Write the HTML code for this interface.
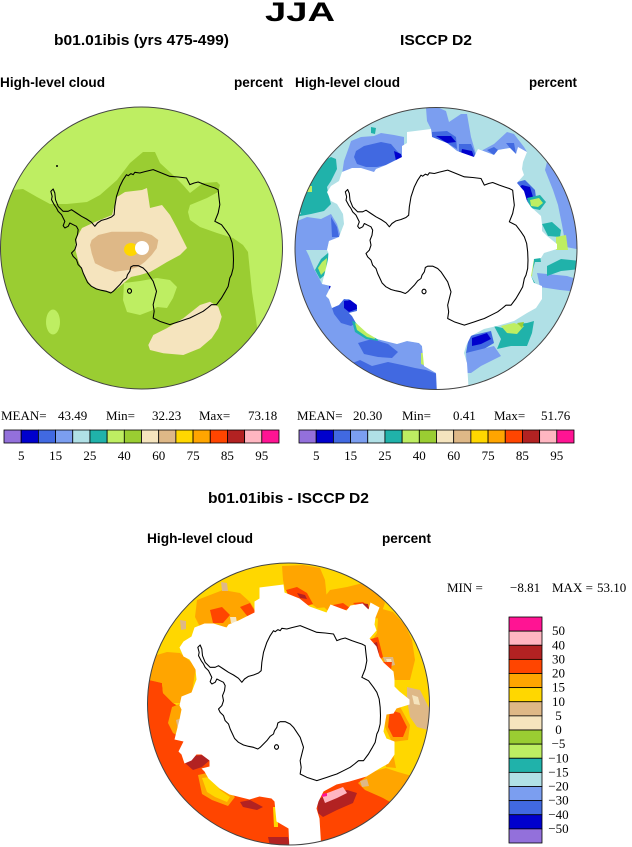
<!DOCTYPE html>
<html><head><meta charset="utf-8"><style>
html,body{margin:0;padding:0;background:#fff;}
svg{display:block;}
.t{font-family:"Liberation Sans",Arial,sans-serif;font-weight:bold;fill:#000;}
.s{font-family:"Liberation Serif","Times New Roman",serif;font-size:13px;fill:#000;}
</style></head><body>
<svg width="632" height="847" viewBox="0 0 632 847" xmlns="http://www.w3.org/2000/svg">
<defs>
<clipPath id="cL"><circle cx="141.5" cy="248" r="141"/></clipPath>
<clipPath id="cR"><circle cx="436" cy="248.5" r="141"/></clipPath>
<clipPath id="cB"><circle cx="288.5" cy="704" r="141"/></clipPath>
<polygon id="wh" points="407,132 431,129 432,137 447,143 457,151 474,157 478,149 494,155 498,150 510,148 516,154 518,147 527,152 523,162 522,169 524,175 517,183 524,191 527,201 531,207 541,216 542,224 542,231 547,236 557,244 557,249 544,253 541,258 534,259 531,276 534,283 542,286 542,299 536,308 527,313 514,321 497,326 484,329 471,336 466,346 464,353 467,363 469,395 437,395 436,373 424,366 422,346 419,343 407,341 397,344 377,339 367,333 356,323 352,316 349,313 357,311 357,305 349,299 344,299 339,305 332,308 329,299 326,296 331,286 322,284 324,276 327,264 329,254 327,250 329,241 339,237 344,224 343,214 337,204 331,201 327,192 331,186 339,181 342,172 352,168 361,168 374,172 376,169 386,165 394,161 402,157 402,146 407,143"/>
<path id="coast" d="M245,45 L250,48 L258,42 L265,45 L270,38 L285,40 L300,36 L325,30 L350,40 L375,50 L400,52 L425,55 L435,75 L448,70 L460,67 L480,75 L495,80 L510,85 L520,90 L522,110 L525,135 L520,160 L510,185 L520,190 L530,195 L545,215 L555,230 L562,250 L565,275 L566,300 L565,325 L560,345 L555,355 L550,380 L540,398 L530,415 L515,435 L500,435 L488,445 L475,455 L455,465 L435,475 L420,480 L405,485 L390,490 L375,495 L360,490 L345,485 L325,475 L328,455 L325,435 L330,415 L335,395 L330,380 L325,365 L315,350 L305,335 L295,325 L280,318 L265,318 L258,322 L255,335 L248,345 L245,355 L235,362 L225,375 L215,385 L205,395 L198,400 L185,395 L170,392 L155,388 L140,380 L128,368 L122,355 L115,340 L110,325 L100,315 L95,300 L85,290 L80,280 L90,270 L95,255 L92,240 L98,225 L100,210 L95,200 L85,195 L75,190 L70,200 L60,205 L55,198 L60,185 L55,175 L50,165 L40,155 L35,145 L28,135 L20,120 L22,110 L18,95 L25,88 L30,100 L32,120 L40,140 L55,155 L70,155 L80,150 L95,160 L110,170 L125,178 L140,188 L150,200 L158,190 L170,182 L185,178 L200,172 L208,165 L210,140 L215,110 L225,80 L235,60 Z M254,387 a6,7 0 1,0 0.1,0 Z"/>
<g id="hbar" stroke="#000" stroke-width="0.8">
<rect x="4" y="430" width="17.19" height="13" fill="#9370DB"/>
<rect x="21.19" y="430" width="17.19" height="13" fill="#0000CD"/>
<rect x="38.38" y="430" width="17.19" height="13" fill="#4169E1"/>
<rect x="55.56" y="430" width="17.19" height="13" fill="#7B9EF0"/>
<rect x="72.75" y="430" width="17.19" height="13" fill="#B0E0E6"/>
<rect x="89.94" y="430" width="17.19" height="13" fill="#20B2AA"/>
<rect x="107.13" y="430" width="17.19" height="13" fill="#BEEE62"/>
<rect x="124.31" y="430" width="17.19" height="13" fill="#9ACD32"/>
<rect x="141.5" y="430" width="17.19" height="13" fill="#F5E4BE"/>
<rect x="158.69" y="430" width="17.19" height="13" fill="#DEB887"/>
<rect x="175.88" y="430" width="17.19" height="13" fill="#FFD700"/>
<rect x="193.06" y="430" width="17.19" height="13" fill="#FFA500"/>
<rect x="210.25" y="430" width="17.19" height="13" fill="#FF4500"/>
<rect x="227.44" y="430" width="17.19" height="13" fill="#B22222"/>
<rect x="244.63" y="430" width="17.19" height="13" fill="#FFB6C1"/>
<rect x="261.81" y="430" width="17.19" height="13" fill="#FF1493"/>
</g>
<g id="hlab" class="s" text-anchor="middle">
<text x="21.2" y="460">5</text><text x="55.6" y="460">15</text><text x="89.9" y="460">25</text><text x="124.3" y="460">40</text>
<text x="158.7" y="460">60</text><text x="193.1" y="460">75</text><text x="227.4" y="460">85</text><text x="261.8" y="460">95</text>
</g>
</defs>

<rect width="632" height="847" fill="#fff"/>

<!-- Titles -->
<text class="t" x="265" y="21" font-size="27" textLength="70" lengthAdjust="spacingAndGlyphs">JJA</text>
<text class="t" x="54" y="45" font-size="15" textLength="175" lengthAdjust="spacingAndGlyphs">b01.01ibis (yrs 475-499)</text>
<text class="t" x="400" y="45" font-size="15" textLength="72" lengthAdjust="spacingAndGlyphs">ISCCP D2</text>
<text class="t" x="0" y="87" font-size="13.5" textLength="105" lengthAdjust="spacingAndGlyphs">High-level cloud</text>
<text class="t" x="234" y="87" font-size="13.5" textLength="49" lengthAdjust="spacingAndGlyphs">percent</text>
<text class="t" x="295" y="87" font-size="13.5" textLength="105" lengthAdjust="spacingAndGlyphs">High-level cloud</text>
<text class="t" x="529" y="87" font-size="13.5" textLength="48" lengthAdjust="spacingAndGlyphs">percent</text>

<!-- LEFT PLOT -->
<g clip-path="url(#cL)">
<rect x="0" y="100" width="290" height="300" fill="#BEEE62"/>
<polygon fill="#9ACD32" points="-5,185 13,190 23,189 37,197 50,204 67,204 87,202 100,195 117,180 130,163 143,152 155,152 160,163 173,175 183,185 190,193 203,183 217,182 220,185 218,192 207,198 190,205 188,212 190,220 200,227 217,233 233,238 243,245 248,252 250,272 252,292 255,312 257,327 270,400 -5,400"/>
<ellipse cx="53" cy="322" rx="7" ry="12.5" fill="#BEEE62"/>
<polygon fill="#BEEE62" points="124,283 140,281 157,278 170,280 177,287 173,298 167,308 157,307 153,310 140,315 127,312 123,300"/>
<polygon fill="#F5E4BE" points="95,222 112,215 117,197 125,192 142,190 147,188 150,208 162,205 170,215 177,228 187,248 180,255 167,262 157,268 150,272 140,275 131,277 125,282 118,288 112,292 102,290 92,287 85,277 78,260 75,248 77,237 82,228"/>
<polygon fill="#DEB887" points="91.7,240 98.3,235 111.7,231.7 128.3,231.7 141.7,231.7 151.7,235 158.3,240 156.7,248.3 151.7,255 145,261.7 138.3,266.7 128.3,270 115,271.7 105,268.3 95,263.3 91.7,253.3 90,245"/>
<ellipse cx="131" cy="249.5" rx="7" ry="6.5" fill="#FFD700"/>
<circle cx="142" cy="248" r="7" fill="#fff"/>
<polygon fill="#F5E4BE" points="148.3,345 153.3,335 166.7,328.3 183.3,318.3 200,305 210,301.7 218.3,306.7 221.7,316.7 218.3,328.3 211.7,338.3 200,348.3 183.3,355 163.3,353.3 150,350"/>
<circle cx="57" cy="166" r="1" fill="#000"/>
<use href="#coast" transform="translate(141.5,248) scale(0.33333) translate(-290,-265)" fill="none" stroke="#000" stroke-width="3.2" stroke-linejoin="round"/>
</g>
<circle cx="141.5" cy="248" r="141" fill="none" stroke="#444" stroke-width="1"/>

<!-- RIGHT PLOT -->
<g clip-path="url(#cR)">
<rect x="290" y="100" width="295" height="300" fill="#B0E0E6"/>
<polygon fill="#7B9EF0" points="290,246 304,246 309,256 314,269 319,278 322,284 331,286 326,296 329,299 332,308 339,305 344,299 349,299 357,305 357,311 349,313 352,316 356,323 367,333 377,339 397,344 407,341 419,343 422,346 424,366 436,373 437,395 290,395"/>
<polygon fill="#7B9EF0" points="290,224 307,217 321,219 331,214 337,224 341,237 329,241 327,250 290,250"/>
<polygon fill="#4169E1" points="331,217 337,227 339,237 332,237"/>
<polygon fill="#4169E1" points="330,362 345,366 360,360 372,366 388,362 402,365 415,368 426,370 437,374 437,395 330,395"/>
<polygon fill="#4169E1" points="358,343 372,339 388,344 398,352 392,358 378,357 364,354"/>
<polygon fill="#4169E1" points="332,308 344,299 357,305 357,311 349,313 352,316 356,323 351,326 341,323 334,314"/>
<polygon fill="#0000CD" points="344,301 356,299 357,309 349,312 344,308"/>
<polygon fill="#0000CD" points="329,286 336,288 336,296 330,296"/>
<polygon fill="#20B2AA" points="352,321 362,324 376,333 378,341 366,339 355,332"/>
<polygon fill="#BEEE62" points="355,323 361,326 374,335 375,339 367,337 357,330"/>
<polygon fill="#BEEE62" points="421,353 426,353 426,366 421,364"/>
<polygon fill="#20B2AA" points="315,270 321,259 328,253 328,267 326,274 320,279"/>
<polygon fill="#BEEE62" points="318,268 322,262 327,258 326,270 321,275"/>
<polygon fill="#4169E1" points="469,336 491,331 494,343 484,349 471,353 466,353"/>
<polygon fill="#0000CD" points="472,338 487,333 491,339 481,344 472,346"/>
<polygon fill="#7B9EF0" points="466,353 494,346 501,356 481,366 471,373 467,373"/>
<polygon fill="#20B2AA" points="494,326 507,329 517,324 527,323 534,321 532,333 527,346 511,346 497,349 501,339"/>
<polygon fill="#BEEE62" points="501,326 514,323 524,326 517,334 507,333"/>
<polygon fill="#9ACD32" points="517,323 524,322 522,328"/>
<polygon fill="#7B9EF0" points="548,158 560,170 570,190 577,215 582,250 566,247 562,225 558,205 553,190 545,170"/>
<polygon fill="#7B9EF0" points="537,273 567,276 580,280 580,292 560,290 540,287"/>
<polygon fill="#20B2AA" points="547,266 561,259 580,261 580,269 561,271 547,276"/>
<polygon fill="#20B2AA" points="528,258 540,256 541,262 535,262 531,276 535,283 528,283 526,270"/>
<polygon fill="#BEEE62" points="529,262 534,260 532,276 529,278"/>
<polygon fill="#4169E1" points="513,183 525,180 535,190 537,205 530,210 518,203"/>
<polygon fill="#0000CD" points="516,190 522,185 530,187 533,197 527,200 518,197"/>
<polygon fill="#20B2AA" points="527,198 540,195 546,202 540,210 530,208"/>
<polygon fill="#BEEE62" points="530,200 539,198 543,203 538,207 531,206"/>
<polygon fill="#20B2AA" points="542,224 552,222 561,230 560,237 548,236"/>
<polygon fill="#BEEE62" points="556,237 566,235 568,250 556,250"/>
<polygon fill="#7B9EF0" points="341,181 344,161 349,147 351,141 361,137 374,136 381,133 394,135 404,137 404,160 380,170 345,185"/>
<polygon fill="#4169E1" points="356,151 364,146 381,142 391,144 397,151 403,157 394,161 386,165 377,167 366,167 357,164 354,157"/>
<polygon fill="#0000CD" points="394,151 401,154 402,159 396,161"/>
<polygon fill="#20B2AA" points="371,127 376,128 375,134 371,133"/>
<polygon fill="#7B9EF0" points="426,108 437,107 446,111 449,122 461,114 467,114 471,137 476,154 474,157 457,151 447,143 432,137 431,129 427,121"/>
<polygon fill="#4169E1" points="432,132 447,131 456,137 457,149 447,143 432,137"/>
<polygon fill="#4169E1" points="459,144 471,144 476,156 474,157 459,154"/>
<polygon fill="#0000CD" points="436,136 451,136 456,142 447,143"/>
<polygon fill="#0000CD" points="462,149 472,151 474,157 461,154"/>
<polygon fill="#7B9EF0" points="481,151 494,144 507,132 514,134 524,147 527,152 516,154 510,148 498,150 494,155 478,149"/>
<polygon fill="#4169E1" points="487,150 494,147 498,150 494,155"/>
<polygon fill="#4169E1" points="506,143 514,143 516,154 510,148"/>
<polygon fill="#20B2AA" points="290,215 301,214 297,201 302,184 311,171 321,162 331,157 336,159 337,169 331,181 327,187 329,197 331,204 324,211 311,214 290,218"/>
<polygon fill="#BEEE62" points="307,186 312,186 312,192 307,192"/>
<use href="#wh" fill="#fff"/>
<use href="#coast" transform="translate(436,248.5) scale(0.33333) translate(-290,-265)" fill="none" stroke="#000" stroke-width="3.2" stroke-linejoin="round"/>
</g>
<circle cx="436" cy="248.5" r="141" fill="none" stroke="#444" stroke-width="1"/>

<!-- MEAN lines -->
<g class="s">
<text x="1" y="420">MEAN=</text><text x="58" y="420">43.49</text><text x="106" y="420">Min=</text><text x="152" y="420">32.23</text><text x="199" y="420">Max=</text><text x="248" y="420">73.18</text>
<text x="297" y="420">MEAN=</text><text x="353" y="420">20.30</text><text x="402" y="420">Min=</text><text x="453" y="420">0.41</text><text x="494" y="420">Max=</text><text x="541" y="420">51.76</text>
</g>
<use href="#hbar"/>
<use href="#hbar" transform="translate(295,0)"/>
<use href="#hlab"/>
<use href="#hlab" transform="translate(295,0)"/>

<!-- BOTTOM -->
<text class="t" x="208" y="503" font-size="15" textLength="161" lengthAdjust="spacingAndGlyphs">b01.01ibis - ISCCP D2</text>
<text class="t" x="147" y="543" font-size="13.5" textLength="106" lengthAdjust="spacingAndGlyphs">High-level cloud</text>
<text class="t" x="382" y="543" font-size="13.5" textLength="49" lengthAdjust="spacingAndGlyphs">percent</text>

<g clip-path="url(#cB)">
<rect x="140" y="555" width="300" height="300" fill="#FFD700"/>
<polygon fill="#FF4500" points="135,676 162,683 163,693 173,703 200,720 300,760 360,765 372,772 385,790 400,800 440,800 440,860 135,860"/>
<polygon fill="#FFA500" points="140,660 167,652 180,653 197,667 195,673 192,692 180,703 173,703 163,693 162,683 140,678"/>
<polygon fill="#FFA500" points="172,707 182,703 183,727 180,737 173,733 168,723"/>
<polygon fill="#DEB887" points="176,720 182,718 182,728 178,730"/>
<polygon fill="#FFA500" points="197,600 210,595 223,590 240,593 250,602 257,613 250,622 237,627 223,627 210,628 200,627 195,617"/>
<polygon fill="#FF4500" points="210,610 222,607 230,615 223,623 213,623"/>
<polygon fill="#FF4500" points="240,607 250,603 256,613 248,617"/>
<polygon fill="#DEB887" points="221,582 227,583 228,591 222,591"/>
<polygon fill="#DEB887" points="180,620 186,621 186,629 181,630"/>
<polygon fill="#F5E4BE" points="230,617 236,617 237,623 231,623"/>
<polygon fill="#FFA500" points="282,566 303,565 320,568 325,580 327,600 330,607 317,608 310,603 297,595 285,590 283,580"/>
<polygon fill="#FF4500" points="286,590 297,587 307,593 313,604 303,607 295,601 288,595"/>
<polygon fill="#B22222" points="297,593 305,595 307,599 300,598"/>
<polygon fill="#FFA500" points="320,603 330,590 347,587 363,583 377,590 385,603 380,617 372,620 363,613 350,610 337,612 327,610"/>
<polygon fill="#FF4500" points="333,605 343,603 350,608 343,611 335,611"/>
<polygon fill="#FF4500" points="353,603 363,602 370,608 363,612"/>
<polygon fill="#B22222" points="360,603 368,604 369,609 363,609"/>
<polygon fill="#FFA500" points="375,607 393,612 405,625 412,640 415,660 410,680 387,680 382,670 370,660 369,645 377,633 378,620"/>
<polygon fill="#FF4500" points="367,640 378,637 383,657 377,662 368,657"/>
<polygon fill="#B22222" points="368,645 377,642 379,653 373,657"/>
<polygon fill="#DEB887" points="383,657 393,657 395,665 387,667"/>
<polygon fill="#F5E4BE" points="386,659 391,659 392,663 388,664"/>
<polygon fill="#FF4500" points="380,662 392,662 390,678 382,678"/>
<polygon fill="#DEB887" points="407,687 420,690 430,710 428,730 417,727 410,717 407,700"/>
<polygon fill="#F5E4BE" points="412,695 418,697 420,705 414,704"/>
<polygon fill="#FFA500" points="386,700 398,703 410,725 408,740 392,742 385,727"/>
<polygon fill="#FF4500" points="390,710 400,713 407,727 403,737 393,737 388,727"/>
<polygon fill="#FFA500" points="385,745 392,748 396,768 386,767"/>
<polygon fill="#FFA500" points="372,772 386,768 398,772 412,776 420,780 410,800 397,806 383,798 365,790 358,783"/>
<polygon fill="#DEB887" points="360,781 367,779 369,786 362,787"/>
<polygon fill="#B22222" points="183,757 202,755 210,760 202,767 193,770 185,763"/>
<polygon fill="#B22222" points="183,743 192,745 190,752 184,750"/>
<polygon fill="#B22222" points="240,802 250,800 263,807 257,810 243,807"/>
<polygon fill="#B22222" points="268,837 288,837 290,846 270,846"/>
<polygon fill="#B22222" points="317,800 330,793 347,790 357,793 353,803 337,810 323,817 318,813"/>
<polygon fill="#FFB6C1" points="322,795 330,792 343,787 347,793 337,798 325,803"/>
<polygon fill="#FF1493" points="322,794 327,793 327,796 322,797"/>
<polygon fill="#FFA500" points="198,775 212,772 225,788 235,797 228,806 212,800 202,794"/>
<polygon fill="#FFD700" points="202,778 210,777 220,790 230,797 227,802 215,797 207,792"/>
<polygon fill="#FFD700" points="273,807 278,807 278,827 274,827"/>
<use href="#wh" transform="translate(-147.5,455.5)" fill="#fff"/>
<use href="#coast" transform="translate(288.5,704) scale(0.33333) translate(-290,-265)" fill="none" stroke="#000" stroke-width="3.2" stroke-linejoin="round"/>
</g>
<circle cx="288.5" cy="704" r="141" fill="none" stroke="#444" stroke-width="1"/>

<g class="s">
<text x="447" y="592">MIN =</text><text x="510" y="592">−8.81</text><text x="552" y="592">MAX =</text><text x="597" y="592">53.10</text>
</g>

<g stroke="#000" stroke-width="0.8">
<rect x="509" y="617" width="33" height="14.13" fill="#FF1493"/>
<rect x="509" y="631.13" width="33" height="14.13" fill="#FFB6C1"/>
<rect x="509" y="645.25" width="33" height="14.13" fill="#B22222"/>
<rect x="509" y="659.38" width="33" height="14.13" fill="#FF4500"/>
<rect x="509" y="673.5" width="33" height="14.13" fill="#FFA500"/>
<rect x="509" y="687.63" width="33" height="14.13" fill="#FFD700"/>
<rect x="509" y="701.75" width="33" height="14.13" fill="#DEB887"/>
<rect x="509" y="715.88" width="33" height="14.13" fill="#F5E4BE"/>
<rect x="509" y="730" width="33" height="14.13" fill="#9ACD32"/>
<rect x="509" y="744.13" width="33" height="14.13" fill="#BEEE62"/>
<rect x="509" y="758.25" width="33" height="14.13" fill="#20B2AA"/>
<rect x="509" y="772.38" width="33" height="14.13" fill="#B0E0E6"/>
<rect x="509" y="786.5" width="33" height="14.13" fill="#7B9EF0"/>
<rect x="509" y="800.63" width="33" height="14.13" fill="#4169E1"/>
<rect x="509" y="814.75" width="33" height="14.13" fill="#0000CD"/>
<rect x="509" y="828.88" width="33" height="14.12" fill="#9370DB"/>
</g>
<g class="s" text-anchor="middle">
<text x="558.5" y="635.1">50</text>
<text x="558.5" y="649.3">40</text>
<text x="558.5" y="663.4">30</text>
<text x="558.5" y="677.5">20</text>
<text x="558.5" y="691.6">15</text>
<text x="558.5" y="705.8">10</text>
<text x="558.5" y="719.9">5</text>
<text x="558.5" y="734">0</text>
<text x="558.5" y="748.1">−5</text>
<text x="558.5" y="762.3">−10</text>
<text x="558.5" y="776.4">−15</text>
<text x="558.5" y="790.5">−20</text>
<text x="558.5" y="804.6">−30</text>
<text x="558.5" y="818.8">−40</text>
<text x="558.5" y="832.9">−50</text>
</g>
</svg>
</body></html>
